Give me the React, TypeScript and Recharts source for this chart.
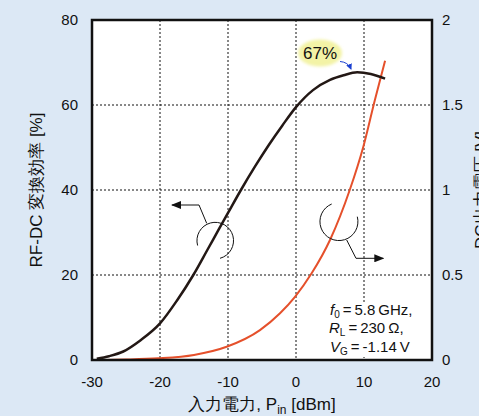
import React from "react";
import { LineChart, Line, XAxis, YAxis, CartesianGrid } from "recharts";

// RF-DC efficiency curve (left axis, %)
const effPin = [-29.3, -27.5, -25.4, -22.9, -20, -17.5, -15.1, -13, -11.4, -10, -8.1, -6, -4, -2, 0, 2.5, 5, 7, 9, 11, 13.1];
const effPct = [0.3, 0.9, 2.0, 4.6, 8.6, 14.0, 20, 26, 30.6, 34.6, 40, 45.6, 50.6, 55.2, 59.5, 63.5, 65.9, 67, 67.7, 67.3, 66.2];

// DC output voltage curve (right axis, V)
const voltPin = [-29, -25, -20.3, -15, -10.2, -5.3, -2.35, -0.15, 2.3, 5, 7.9, 9.9, 11.6, 13.1];
const voltV = [0, 0.003, 0.01, 0.03, 0.078, 0.176, 0.275, 0.372, 0.51, 0.706, 1.0, 1.255, 1.53, 1.76];

const xTicks = [-30, -20, -10, 0, 10, 20];
const leftTicks = [0, 20, 40, 60, 80];
const rightTicks = [0, 0.5, 1, 1.5, 2];

const effData = effPin.map((x, i) => ({ x, eff: effPct[i] }));
const voltData = voltPin.map((x, i) => ({ x, volt: voltV[i] }));

const W = 479;
const H = 416;
const BG = "#dce8f5";
const FONT = "'Liberation Sans', Arial, sans-serif";
const tickStyle = { fill: "#111", fontSize: 15, fontFamily: FONT };

export default function App() {
  return (
    <div style={{ position: "absolute", left: 0, top: 0, width: W, height: H, background: BG }}>
      <LineChart width={W} height={H} margin={{ top: 20, right: 0, bottom: 0, left: 0 }}>
        <CartesianGrid yAxisId="left" fill="#fff" stroke="#111" strokeDasharray="2 2" strokeWidth={1} />
        <XAxis
          dataKey="x"
          type="number"
          domain={[-30, 20]}
          ticks={xTicks}
          height={56}
          axisLine={false}
          tickLine={false}
          tickSize={6}
          tickMargin={10}
          tick={tickStyle}
          allowDataOverflow
        />
        <YAxis
          yAxisId="left"
          domain={[0, 80]}
          ticks={leftTicks}
          width={92}
          axisLine={false}
          tickLine={false}
          tickSize={6}
          tickMargin={8}
          tick={tickStyle}
        />
        <YAxis
          yAxisId="right"
          orientation="right"
          domain={[0, 2]}
          ticks={rightTicks}
          width={47}
          axisLine={false}
          tickLine={false}
          tickSize={6}
          tickMargin={4}
          tick={{ ...tickStyle, textAnchor: "start" }}
        />
        <Line
          yAxisId="right"
          data={voltData}
          dataKey="volt"
          type="monotone"
          stroke="#e5502b"
          strokeWidth={2}
          dot={false}
          isAnimationActive={false}
        />
        <Line
          yAxisId="left"
          data={effData}
          dataKey="eff"
          type="monotone"
          stroke="#231815"
          strokeWidth={2.5}
          dot={false}
          isAnimationActive={false}
        />
      </LineChart>

      <svg
        width={W}
        height={H}
        style={{ position: "absolute", left: 0, top: 0, pointerEvents: "none" }}
        fontFamily={FONT}
      >
        <defs>
          <marker id="ah" markerWidth="10" markerHeight="8" refX="9" refY="4" orient="auto" markerUnits="userSpaceOnUse">
            <path d="M0,0 L10,4 L0,8 z" fill="#111" />
          </marker>
          <marker id="ahb" markerWidth="6" markerHeight="6" refX="5" refY="3" orient="auto" markerUnits="userSpaceOnUse">
            <path d="M0,0 L6,3 L0,6 z" fill="#1a3fd0" />
          </marker>
          <filter id="blur" x="-20%" y="-20%" width="140%" height="140%">
            <feGaussianBlur stdDeviation="1.5" />
          </filter>
        </defs>

        {/* conditions box (hides the grid behind the text) */}
        <rect x={327} y={302} width={95} height={55} fill="#fff" />

        {/* plot frame */}
        <rect x={92} y={20} width={340} height={340} fill="none" stroke="#111" strokeWidth={2.5} />

        {/* 67% callout */}
        <ellipse cx={320} cy={53} rx={22} ry={13.5} fill="#f3f3a6" filter="url(#blur)" />
        <text x={320} y={59} textAnchor="middle" fontSize={17} fill="#111">67%</text>
        <path d="M340,61.5 Q348,62 351,69" fill="none" stroke="#1a3fd0" strokeWidth={1} markerEnd="url(#ahb)" />

        {/* left-axis indicator */}
        <path d="M197.6,245.5 A18.3,18.3 0 1 1 220,258.3" fill="none" stroke="#111" strokeWidth={1} />
        <path d="M206.7,223.3 L199,205 L172,205" fill="none" stroke="#111" strokeWidth={1} markerEnd="url(#ah)" />

        {/* right-axis indicator */}
        <path d="M331.7,204 A19,19 0 1 0 357.3,216.7" fill="none" stroke="#111" strokeWidth={1} />
        <path d="M346.7,240 L356,258.3 L383.3,258.3" fill="none" stroke="#111" strokeWidth={1} markerEnd="url(#ah)" />

        {/* conditions */}
        <g fontSize={15} fill="#111">
          <text x={330} y={315}>
            <tspan fontStyle="italic">f</tspan>
            <tspan fontSize={10} dy={3}>0</tspan>
            <tspan dy={-3}>{"\u2009=\u20095.8\u2009GHz,"}</tspan>
          </text>
          <text x={329} y={333}>
            <tspan fontStyle="italic">R</tspan>
            <tspan fontSize={10} dy={3}>L</tspan>
            <tspan dy={-3}>{"\u2009=\u2009230\u2009Ω,"}</tspan>
          </text>
          <text x={330} y={351.5}>
            <tspan fontStyle="italic">V</tspan>
            <tspan fontSize={10} dy={3}>G</tspan>
            <tspan dy={-3}>{"\u2009=\u2009-1.14\u2009V"}</tspan>
          </text>
        </g>

        {/* axis titles */}
        <text x={262} y={410} textAnchor="middle" fontSize={17} fill="#111">
          入力電力, P<tspan fontSize={12} dy={4}>in</tspan>
          <tspan dy={-4}> [dBm]</tspan>
        </text>
        <text x={0} y={0} transform="translate(42,190) rotate(-90)" textAnchor="middle" fontSize={17} fill="#111">
          RF-DC 変換効率 [%]
        </text>
        <text x={0} y={0} transform="translate(487,190) rotate(-90)" textAnchor="middle" fontSize={17} fill="#111">
          DC出力電圧 [V]
        </text>
      </svg>
    </div>
  );
}
